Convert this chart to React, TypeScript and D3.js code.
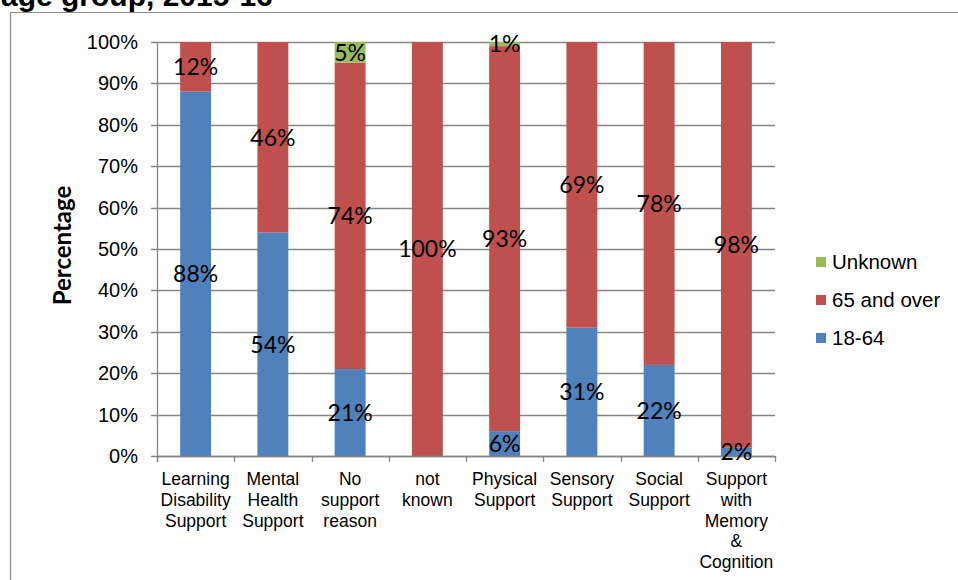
import React, { useRef, useEffect } from 'react';
import * as d3 from 'd3';

// categories and values (percent)
const categories = [
  ['Learning', 'Disability', 'Support'],
  ['Mental', 'Health', 'Support'],
  ['No', 'support', 'reason'],
  ['not', 'known'],
  ['Physical', 'Support'],
  ['Sensory', 'Support'],
  ['Social', 'Support'],
  ['Support', 'with', 'Memory', '&', 'Cognition'],
];
const age1864 = [88, 54, 21, 0, 6, 31, 22, 2];
const age65plus = [12, 46, 74, 100, 93, 69, 78, 98];
const ageUnknown = [0, 0, 5, 0, 1, 0, 0, 0];
const seriesNames = ['18-64', '65 and over', 'Unknown'];
const seriesColors = ['#4F81BD', '#C0504D', '#9BBB59'];
const yTicks = [0, 10, 20, 30, 40, 50, 60, 70, 80, 90, 100];

const App = () => {
  const svgRef = useRef<SVGSVGElement>(null);

  useEffect(() => {
    const svg = d3.select(svgRef.current);
    svg.selectAll('*').remove();

    const left = 157, right = 775, top = 42, bottom = 456;
    const keys = categories.map((c, i) => String(i));

    const x = d3.scaleBand().domain(keys).range([left, right]).padding(0);
    const y = d3.scaleLinear().domain([0, 100]).range([bottom, top]);

    // outer frame (chart area border)
    svg.append('path')
      .attr('d', `M10.5,600 L10.5,12.5 L970,12.5`)
      .attr('fill', 'none')
      .attr('stroke', '#8c8c8c')
      .attr('stroke-width', 1.2);

    // title, cut off by the top edge as in the source image
    svg.append('text')
      .attr('x', 1)
      .attr('y', 6)
      .attr('font-family', 'Liberation Sans, Arial, sans-serif')
      .attr('font-weight', 'bold')
      .attr('font-size', 30)
      .attr('fill', '#000')
      .text('age group, 2015-16');

    // gridlines
    svg.append('g')
      .selectAll('line')
      .data(yTicks)
      .enter()
      .append('line')
      .attr('x1', left - 6)
      .attr('x2', right)
      .attr('y1', d => Math.round(y(d)) + 0.5)
      .attr('y2', d => Math.round(y(d)) + 0.5)
      .attr('stroke', '#868686')
      .attr('stroke-width', 1.3);

    // y tick labels
    svg.append('g')
      .selectAll('text')
      .data(yTicks)
      .enter()
      .append('text')
      .attr('x', 138)
      .attr('y', d => y(d))
      .attr('dy', '0.35em')
      .attr('text-anchor', 'end')
      .attr('font-family', 'Liberation Sans, Arial, sans-serif')
      .attr('font-size', 20)
      .attr('fill', '#000')
      .text(d => d + '%');

    // stacked bars
    const rows = keys.map((k, i) => ({
      key: k,
      vals: [age1864[i], age65plus[i], ageUnknown[i]],
    }));
    const bw = x.bandwidth() * 0.4;
    rows.forEach(r => {
      let acc = 0;
      r.vals.forEach((v, s) => {
        const y0 = acc, y1 = acc + v;
        acc = y1;
        if (v <= 0) return;
        svg.append('rect')
          .attr('x', (x(r.key) as number) + x.bandwidth() * 0.3)
          .attr('y', y(y1))
          .attr('width', bw)
          .attr('height', y(y0) - y(y1))
          .attr('fill', seriesColors[s]);
      });
    });

    // axis lines and ticks
    svg.append('line')
      .attr('x1', left + 0.5).attr('x2', left + 0.5)
      .attr('y1', top).attr('y2', bottom + 6)
      .attr('stroke', '#868686').attr('stroke-width', 1.3);
    svg.append('line')
      .attr('x1', left).attr('x2', right)
      .attr('y1', bottom + 0.5).attr('y2', bottom + 0.5)
      .attr('stroke', '#868686').attr('stroke-width', 1.3);
    svg.append('g')
      .selectAll('line')
      .data([...keys.map(k => x(k) as number), right])
      .enter()
      .append('line')
      .attr('x1', d => Math.round(d) + 0.5)
      .attr('x2', d => Math.round(d) + 0.5)
      .attr('y1', bottom)
      .attr('y2', bottom + 6)
      .attr('stroke', '#868686')
      .attr('stroke-width', 1.3);

    // data labels
    rows.forEach(r => {
      let acc = 0;
      r.vals.forEach(v => {
        const mid = acc + v / 2;
        acc += v;
        if (v <= 0) return;
        svg.append('text')
          .attr('x', (x(r.key) as number) + x.bandwidth() / 2)
          .attr('y', y(mid))
          .attr('dy', '0.36em')
          .attr('text-anchor', 'middle')
          .attr('font-family', 'Lato, sans-serif')
          .attr('font-size', 23)
          .attr('fill', '#000')
          .text(v + '%');
      });
    });

    // category labels
    categories.forEach((lines, i) => {
      const t = svg.append('text')
        .attr('text-anchor', 'middle')
        .attr('font-family', 'Liberation Sans, Arial, sans-serif')
        .attr('font-size', 17.5)
        .attr('fill', '#000');
      lines.forEach((ln, j) => {
        t.append('tspan')
          .attr('x', (x(keys[i]) as number) + x.bandwidth() / 2)
          .attr('y', 485 + j * 20.8)
          .text(ln);
      });
    });

    // y axis title
    svg.append('text')
      .attr('transform', `translate(71,245.5) rotate(-90)`)
      .attr('text-anchor', 'middle')
      .attr('font-family', 'Lato, sans-serif')
      .attr('font-weight', 'bold')
      .attr('font-size', 24)
      .attr('fill', '#000')
      .text('Percentage');

    // legend (reverse order)
    const legendItems = [2, 1, 0];
    legendItems.forEach((s, i) => {
      const cy = 262 + i * 38;
      svg.append('rect')
        .attr('x', 816)
        .attr('y', cy - 5)
        .attr('width', 10)
        .attr('height', 10)
        .attr('fill', seriesColors[s]);
      svg.append('text')
        .attr('x', 832)
        .attr('y', cy)
        .attr('dy', '0.35em')
        .attr('font-family', 'Liberation Sans, Arial, sans-serif')
        .attr('font-size', 20.5)
        .attr('fill', '#000')
        .text(seriesNames[s]);
    });
  }, []);

  return (
    <svg
      ref={svgRef}
      width={958}
      height={580}
      style={{ position: 'absolute', left: 0, top: 0, background: '#fff' }}
    />
  );
};

export default App;
